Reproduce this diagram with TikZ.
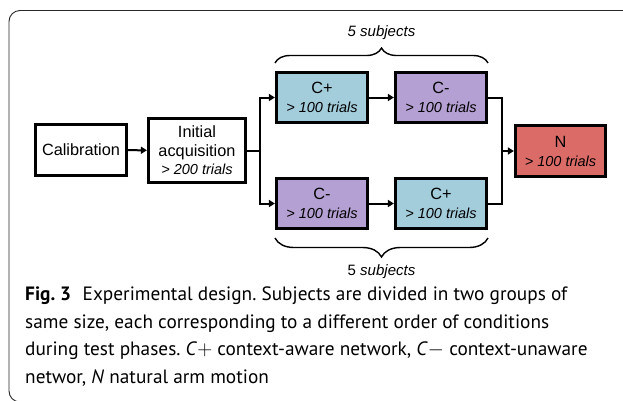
\documentclass[tikz,border=0pt]{standalone}
\usepackage{fontspec}
\setmainfont{Liberation Sans}
\newfontfamily\capfont{PT Sans}
\usetikzlibrary{arrows.meta,decorations.pathreplacing}
\definecolor{cplus}{RGB}{164,205,220}
\definecolor{cminus}{RGB}{180,160,210}
\definecolor{nred}{RGB}{219,107,103}
\newcommand\trialsline[1]{{\fontsize{14.5}{19}\selectfont\itshape > #1 trials}}
\frenchspacing
\tikzset{
  box/.style={draw=black, line width=2.7pt, minimum width=91.5pt, minimum height=50.5pt,
    inner sep=0pt, align=center, font=\fontsize{16.3}{19}\selectfont},
  conn/.style={line width=2pt},
  arr/.style={line width=2pt, -{Triangle[length=6pt,width=7pt]}},
  bracestyle/.style={decorate, line width=1.4pt},
  frame/.style={draw=black!85, line width=0.9pt, rounded corners=11pt},
  subj/.style={font=\fontsize{15}{18}\selectfont}
}
\begin{document}
\begin{tikzpicture}[x=1pt,y=-1pt]
\useasboundingbox (0,0) rectangle (623,400);
\clip (0,0) rectangle (623,400);
\draw[frame] (640,10.5) -- (9,10.5) -- (9,402) -- (60,402);

\node[box, fill=white] (cal) at (81,150) {Calibration};
\node[box, fill=white, minimum width=97.5pt, minimum height=64.5pt] (init) at (197,150.5)
  {Initial\\acquisition\\[-1pt]\trialsline{200}};
\node[box, fill=cplus] (cp1) at (322,97.5) {C+\\\trialsline{100}};
\node[box, fill=cminus] (cm1) at (441,97.5) {C-\\\trialsline{100}};
\node[box, fill=cminus] (cm2) at (322,203.5) {C-\\\trialsline{100}};
\node[box, fill=cplus] (cp2) at (441,203.5) {C+\\\trialsline{100}};
\node[box, fill=nred, minimum width=90.5pt, minimum height=51.5pt] (n) at (560.5,151) {N\\\trialsline{100}};

\coordinate (split) at (260,150.5);
\coordinate (join) at (502,151);

\draw[arr] (cal) -- (init);
\draw[conn] (init.east) -- (split);
\draw[arr] (split) |- (cp1.west);
\draw[arr] (split) |- (cm2.west);
\draw[arr] (cp1) -- (cm1);
\draw[arr] (cm2) -- (cp2);
\draw[conn] (cm1.east) -| (join);
\draw[conn] (cp2.east) -| (join);
\draw[arr] (join) -- (n.west);

\coordinate (tbl) at (275,63);
\coordinate (tbr) at (488,63);
\coordinate (bbl) at (275,238);
\coordinate (bbr) at (488,238);
\draw[bracestyle, decoration={brace, amplitude=15pt}] (tbl) -- (tbr);
\draw[bracestyle, decoration={brace, amplitude=19pt}] (bbr) -- (bbl);
\node[subj] (ts) at (381.5,33) {\itshape 5 subjects};
\node[subj] (bs) at (381.5,272) {5 \itshape subjects};

\node[anchor=north west, align=left, inner sep=0pt,
  font=\capfont\fontsize{19.3}{27.5}\selectfont] (cap) at (25,287)
  {\textbf{Fig. 3}\hspace{0.6em}Experimental design. Subjects are divided in two groups of\\
   same size, each corresponding to a different order of conditions\\
   during test phases. \textit{C}$+$ context-aware network, \textit{C}$-$ context-unaware\\
   networ, \textit{N} natural arm motion};
\end{tikzpicture}
\end{document}
